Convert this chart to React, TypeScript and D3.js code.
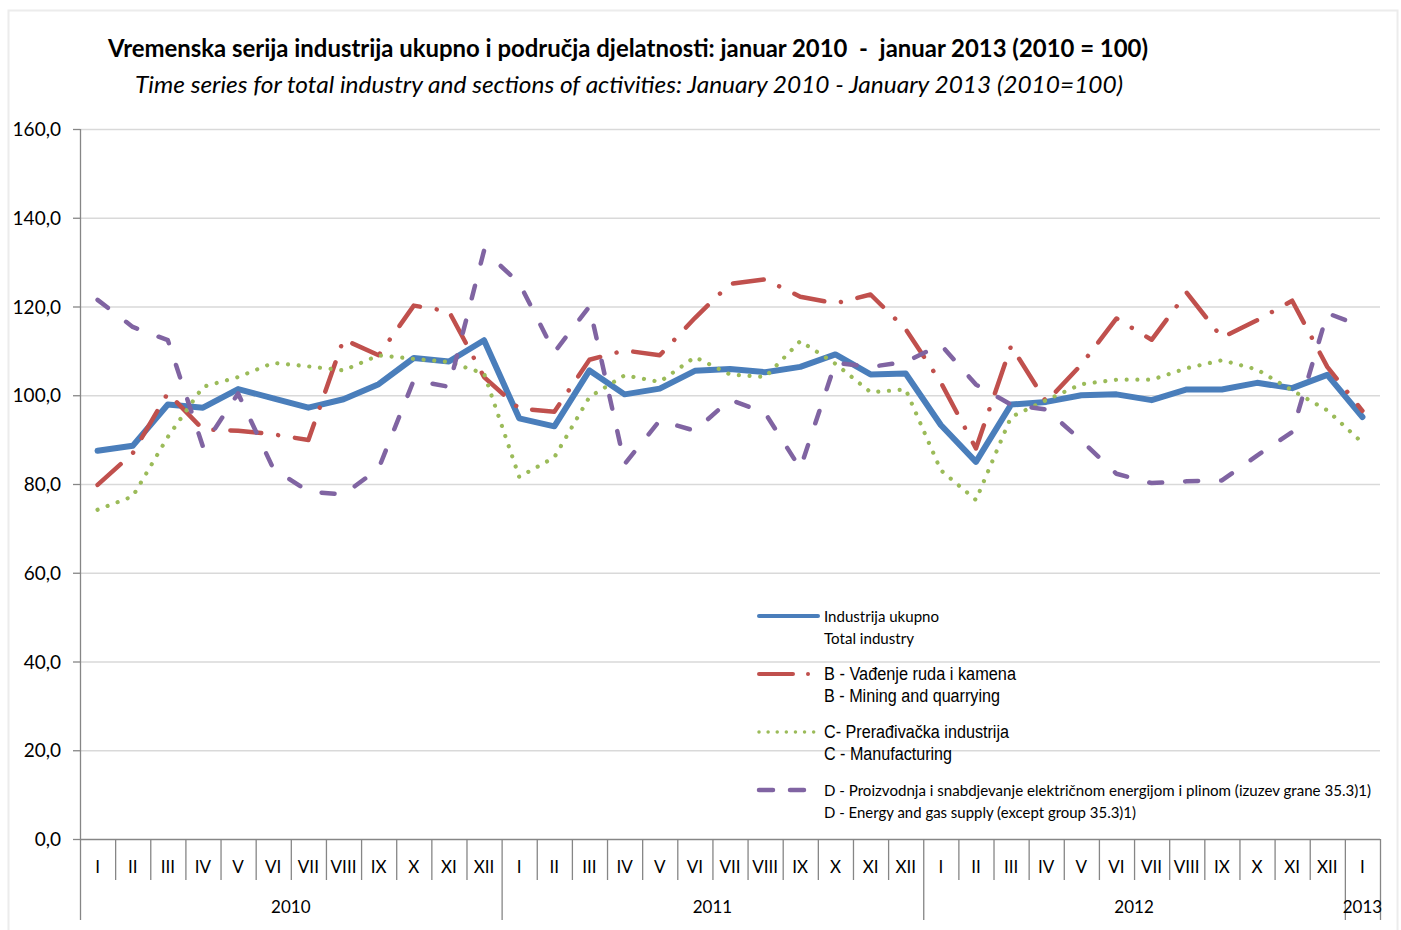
import * as d3 from 'd3';
import React, { useEffect, useRef } from 'react';

// monthly index values, Jan 2010 - Jan 2013 (2010 = 100)
const monthLabels = ['I', 'II', 'III', 'IV', 'V', 'VI', 'VII', 'VIII', 'IX', 'X', 'XI', 'XII',
    'I', 'II', 'III', 'IV', 'V', 'VI', 'VII', 'VIII', 'IX', 'X', 'XI', 'XII',
    'I', 'II', 'III', 'IV', 'V', 'VI', 'VII', 'VIII', 'IX', 'X', 'XI', 'XII',
    'I'];
const yearLabels = ['2010', '2011', '2012', '2013'];
const yearSpans = [12, 12, 12, 1];
const yTicks = [0, 20, 40, 60, 80, 100, 120, 140, 160];

const totalIndustry = [87.5, 88.6, 97.9, 97.2, 101.4, 99.3, 97.2, 99.1, 102.5, 108.4, 107.6, 112.4,
    94.8, 93.0, 105.6, 100.2, 101.5, 105.5, 105.9, 105.2, 106.4, 109.2, 104.7, 104.9,
    93.3, 85.0, 97.9, 98.5, 100.0, 100.2, 98.9, 101.3, 101.3, 102.8, 101.6, 104.6,
    95.1];
const mining = [79.8, 86.9, 100.5, 92.3, 92.0, 91.2, 89.9, 112.6, 109.0, 120.2, 118.9, 104.1,
    97.0, 96.3, 108.0, 110.1, 109.0, 117.4, 125.1, 126.1, 122.2, 120.7, 122.7, 114.9,
    102.9, 88.0, 111.1, 98.5, 106.9, 117.3, 112.5, 123.1, 113.0, 116.9, 121.3, 106.4,
    96.5];
const manufacturing = [74.2, 77.2, 90.6, 101.9, 104.1, 107.3, 106.5, 105.6, 109.0, 108.2, 107.5, 104.9,
    81.6, 86.0, 99.6, 104.5, 103.0, 108.6, 104.7, 104.1, 112.2, 107.1, 100.7, 101.3,
    83.1, 76.4, 95.1, 98.9, 102.5, 103.5, 103.5, 106.1, 107.9, 105.8, 101.1, 96.6,
    89.3];
const energy = [121.5, 115.4, 112.4, 88.4, 100.4, 83.5, 78.3, 77.6, 83.5, 103.4, 101.9, 132.6,
    125.3, 109.7, 120.0, 84.5, 94.3, 92.0, 99.0, 96.0, 83.5, 107.3, 106.4, 107.5,
    111.4, 102.4, 97.9, 96.8, 89.8, 82.3, 80.2, 80.6, 80.8, 86.4, 91.7, 118.5,
    115.5];

const seriesNames = [
    ['Industrija ukupno', 'Total industry'],
    ['B - Vađenje ruda i kamena', 'B - Mining and quarrying'],
    ['C- Prerađivačka industrija', 'C - Manufacturing'],
    ['D - Proizvodnja i snabdjevanje električnom energijom i plinom (izuzev grane 35.3)1)', 'D - Energy and gas supply (except group 35.3)1)'],
];

const calibri = 'Lato, "Open Sans", sans-serif';
const narrow = '"Liberation Sans Narrow", "Liberation Sans", Arial, sans-serif';

export default function App() {
    const svgRef = useRef(null);
    const width = 1401;
    const height = 930;

    function renderChart() {
        const svg = d3.select(svgRef.current);
        svg.selectAll('*').remove();

        const left = 80, right = 1380, top = 129, bottom = 839;
        const x = d3.scaleBand().domain(d3.range(monthLabels.length)).range([left, right]).padding(0);
        const y = d3.scaleLinear().domain([0, 160]).range([bottom, top]);
        const cx = (i) => x(i) + x.bandwidth() / 2;

        // faint frame round the chart area
        svg.append('rect')
            .attr('x', 8.5).attr('y', 10.5).attr('width', 1389).attr('height', 930)
            .attr('fill', 'none').attr('stroke', '#ececec').attr('stroke-width', 2);

        // titles (the bold one keeps its double spaces round the dash)
        svg.append('text')
            .attr('x', 108).attr('y', 57)
            .style('white-space', 'pre')
            .attr('font-family', calibri).attr('font-weight', 'bold').attr('font-size', 24)
            .attr('textLength', 1040).attr('lengthAdjust', 'spacingAndGlyphs')
            .text('Vremenska serija industrija ukupno i područja djelatnosti: januar 2010  -  januar 2013 (2010 = 100)');
        svg.append('text')
            .attr('x', 135).attr('y', 93)
            .attr('font-family', calibri).attr('font-style', 'italic').attr('font-size', 24)
            .attr('textLength', 988).attr('lengthAdjust', 'spacingAndGlyphs')
            .text('Time series for total industry and sections of activities: January 2010 - January 2013 (2010=100)');

        // gridlines + y axis
        const grid = svg.append('g');
        grid.selectAll('line')
            .data(yTicks.filter((t) => t > 0))
            .join('line')
            .attr('x1', left).attr('x2', right)
            .attr('y1', (d) => y(d) + 0.5).attr('y2', (d) => y(d) + 0.5)
            .attr('stroke', '#d9d9d9').attr('stroke-width', 1.3);

        const yAxis = svg.append('g');
        yAxis.append('line')
            .attr('x1', left + 0.5).attr('x2', left + 0.5).attr('y1', top).attr('y2', bottom)
            .attr('stroke', '#868686').attr('stroke-width', 1.3);
        yAxis.selectAll('line.tick')
            .data(yTicks)
            .join('line')
            .attr('class', 'tick')
            .attr('x1', left - 7).attr('x2', left)
            .attr('y1', (d) => y(d) + 0.5).attr('y2', (d) => y(d) + 0.5)
            .attr('stroke', '#868686').attr('stroke-width', 1.3);
        yAxis.selectAll('text')
            .data(yTicks)
            .join('text')
            .attr('x', 61).attr('y', (d) => y(d) + 7)
            .attr('text-anchor', 'end')
            .attr('font-family', calibri).attr('font-size', 19)
            .text((d) => d3.format('.1f')(d).replace('.', ','));

        // x axis: month row and year row
        const xAxis = svg.append('g');
        xAxis.append('line')
            .attr('x1', left).attr('x2', right).attr('y1', bottom + 0.5).attr('y2', bottom + 0.5)
            .attr('stroke', '#868686').attr('stroke-width', 1.3);
        const yearStarts = yearSpans.map((n, i) => d3.sum(yearSpans.slice(0, i)));
        const yearBounds = new Set([...yearStarts, monthLabels.length]);
        xAxis.selectAll('line.sep')
            .data(d3.range(monthLabels.length + 1))
            .join('line')
            .attr('class', 'sep')
            .attr('x1', (i) => (i < monthLabels.length ? x(i) : right) + 0.5)
            .attr('x2', (i) => (i < monthLabels.length ? x(i) : right) + 0.5)
            .attr('y1', bottom)
            .attr('y2', (i) => (yearBounds.has(i) ? 920 : 880))
            .attr('stroke', '#868686').attr('stroke-width', 1.3);
        xAxis.selectAll('text.month')
            .data(monthLabels)
            .join('text')
            .attr('class', 'month')
            .attr('x', (_, i) => cx(i)).attr('y', 873)
            .attr('text-anchor', 'middle')
            .attr('font-family', calibri).attr('font-size', 17)
            .text((d) => d);
        xAxis.selectAll('text.year')
            .data(yearLabels)
            .join('text')
            .attr('class', 'year')
            .attr('x', (_, i) => (x(yearStarts[i]) + (yearStarts[i] + yearSpans[i] < monthLabels.length ? x(yearStarts[i] + yearSpans[i]) : right)) / 2)
            .attr('y', 913)
            .attr('text-anchor', 'middle')
            .attr('font-family', calibri).attr('font-size', 17)
            .text((d) => d);

        // series
        const styles = [
            { values: totalIndustry, color: '#4a7ebb', width: 6, dash: null },
            { values: mining, color: '#c0504d', width: 4.5, dash: '31 17 0.01 17' },
            { values: manufacturing, color: '#9bbb59', width: 4.2, dash: '0.01 10.7' },
            { values: energy, color: '#8064a2', width: 4.5, dash: '13 23' },
        ];
        const line = d3.line().x((_, i) => cx(i)).y((d) => y(d));
        const lines = svg.append('g');
        styles.forEach((s) => {
            lines.append('path')
                .attr('d', line(s.values))
                .attr('fill', 'none')
                .attr('stroke', s.color)
                .attr('stroke-width', s.width)
                .attr('stroke-linecap', 'round')
                .attr('stroke-linejoin', 'round')
                .attr('stroke-dasharray', s.dash);
        });

        // legend
        const legendStyles = [
            { color: '#4a7ebb', width: 4, dash: null, x2: 818 },
            { color: '#c0504d', width: 4, dash: '34 15 0.01 100', x2: 810 },
            { color: '#9bbb59', width: 3.5, dash: '0.01 9.1', x2: 814 },
            { color: '#8064a2', width: 4.5, dash: '14 17', x2: 804 },
        ];
        const legendY = [616, 674, 732, 790];
        const legendFonts = [
            [calibri, 16, [115, 90]],
            [narrow, 18, [192, 176]],
            [narrow, 18, [185, 128]],
            [calibri, 16, [547, 312]],
        ];
        const legend = svg.append('g');
        legendStyles.forEach((s, i) => {
            const ly = legendY[i];
            legend.append('line')
                .attr('x1', 759).attr('x2', s.x2).attr('y1', ly).attr('y2', ly)
                .attr('stroke', s.color).attr('stroke-width', s.width)
                .attr('stroke-linecap', 'round')
                .attr('stroke-dasharray', s.dash);
            const [family, size, lens] = legendFonts[i];
            seriesNames[i].forEach((name, j) => {
                legend.append('text')
                    .attr('x', 824).attr('y', ly + j * 22 + size * 0.36)
                    .attr('font-family', family).attr('font-size', size)
                    .attr('textLength', lens[j]).attr('lengthAdjust', 'spacingAndGlyphs')
                    .text(name);
            });
        });
    }

    useEffect(() => {
        renderChart();
    }, []);

    return (
        <svg ref={svgRef} width={width} height={height}
            style={{ position: 'absolute', left: 0, top: 0, background: '#fff' }} />
    );
}
